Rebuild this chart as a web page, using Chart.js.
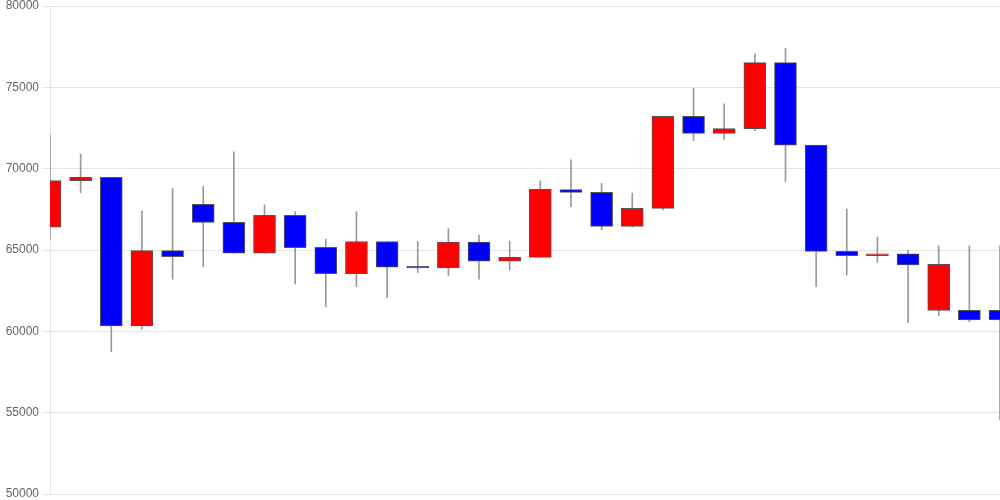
<!DOCTYPE html>
<html lang="ja">
<head>
  <meta charset="UTF-8">
  <title>ローソク足</title>
  <script src="https://cdn.jsdelivr.net/npm/chart.js"></script>
  <style>
    html, body { margin: 0; padding: 0; background: #fff; }
    #wrap { width: 1000px; height: 500px; }
  </style>
</head>
<body>
  <div id="wrap"><canvas id="myChart"></canvas></div>
  <script>
    // datos (32 velas)
    const labels = ['1','2','3','4','5','6','7','8','9','10','11','12','13','14','15','16',
                    '17','18','19','20','21','22','23','24','25','26','27','28','29','30','31','32'];
    const openVals  = [66400, 69260, 69470, 60330, 64960, 67810, 66700, 64800, 67130, 65170, 63550, 65520, 63990, 63900, 65480, 64310,
                       64550, 68710, 68540, 66450, 67560, 73220, 72170, 72460, 76520, 71450, 64920, 64650, 64770, 61290, 61290, 61290];
    const closeVals = [69260, 69470, 60330, 64960, 64590, 66700, 64800, 67130, 65150, 63550, 65520, 63940, 63900, 65480, 64310, 64550,
                       68730, 68540, 66450, 67560, 73220, 72170, 72460, 76520, 71450, 64920, 64650, 64770, 64090, 64120, 60700, 60700];
    const highVals  = [72070, 70900, 69470, 67400, 68790, 68910, 71040, 67770, 67360, 65660, 67360, 65520, 65520, 66310, 65920, 65550,
                       69260, 70550, 69100, 68500, 73220, 74940, 73980, 77050, 77400, 71450, 67520, 65800, 65000, 65250, 65250, 65250];
    const lowVals   = [65660, 68520, 58750, 60120, 63200, 63970, 64800, 64800, 62910, 61510, 62740, 62070, 63610, 63420, 63200, 63770,
                       64550, 67660, 66230, 66400, 67460, 71720, 71800, 72330, 69200, 62740, 63460, 64240, 60530, 60960, 60590, 54550];

    const cuerpos = openVals.map((o, i) => [o, closeVals[i]]);
    const mechas = lowVals.map((l, i) => [l, highVals[i]]);
    const colores = openVals.map((o, i) => closeVals[i] >= o ? '#ff0000' : '#0000ff');

    const ctx = document.getElementById('myChart').getContext('2d');
    new Chart(ctx, {
      type: 'bar',
      data: {
        labels: labels,
        datasets: [{
          label: 'cuerpo',
          data: cuerpos,
          backgroundColor: colores,
          borderColor: '#555',
          borderWidth: 1,
          borderSkipped: false,
          barThickness: 22,
          grouped: false,
          clip: 0
        }, {
          label: 'mecha',
          data: mechas,
          backgroundColor: '#999',
          borderWidth: 0,
          barThickness: 1,
          grouped: false,
          clip: 0
        }]
      },
      options: {
        responsive: true,
        maintainAspectRatio: false,
        animation: false,
        plugins: {
          legend: { display: false },
          tooltip: { enabled: false }
        },
        scales: {
          x: {
            display: false,
            offset: false,
            grid: { offset: false }
          },
          y: {
            min: 50000,
            max: 80000,
            ticks: {
              stepSize: 5000,
              color: '#666',
              font: { family: 'Arial, "Liberation Sans", sans-serif', size: 12 },
              callback: (v) => String(v)
            },
            afterFit: (scale) => {
              scale.width = 50;
              scale.paddingTop = 6;
              scale.paddingBottom = 6;
            }
          }
        }
      }
    });
  </script>
</body>
</html>
